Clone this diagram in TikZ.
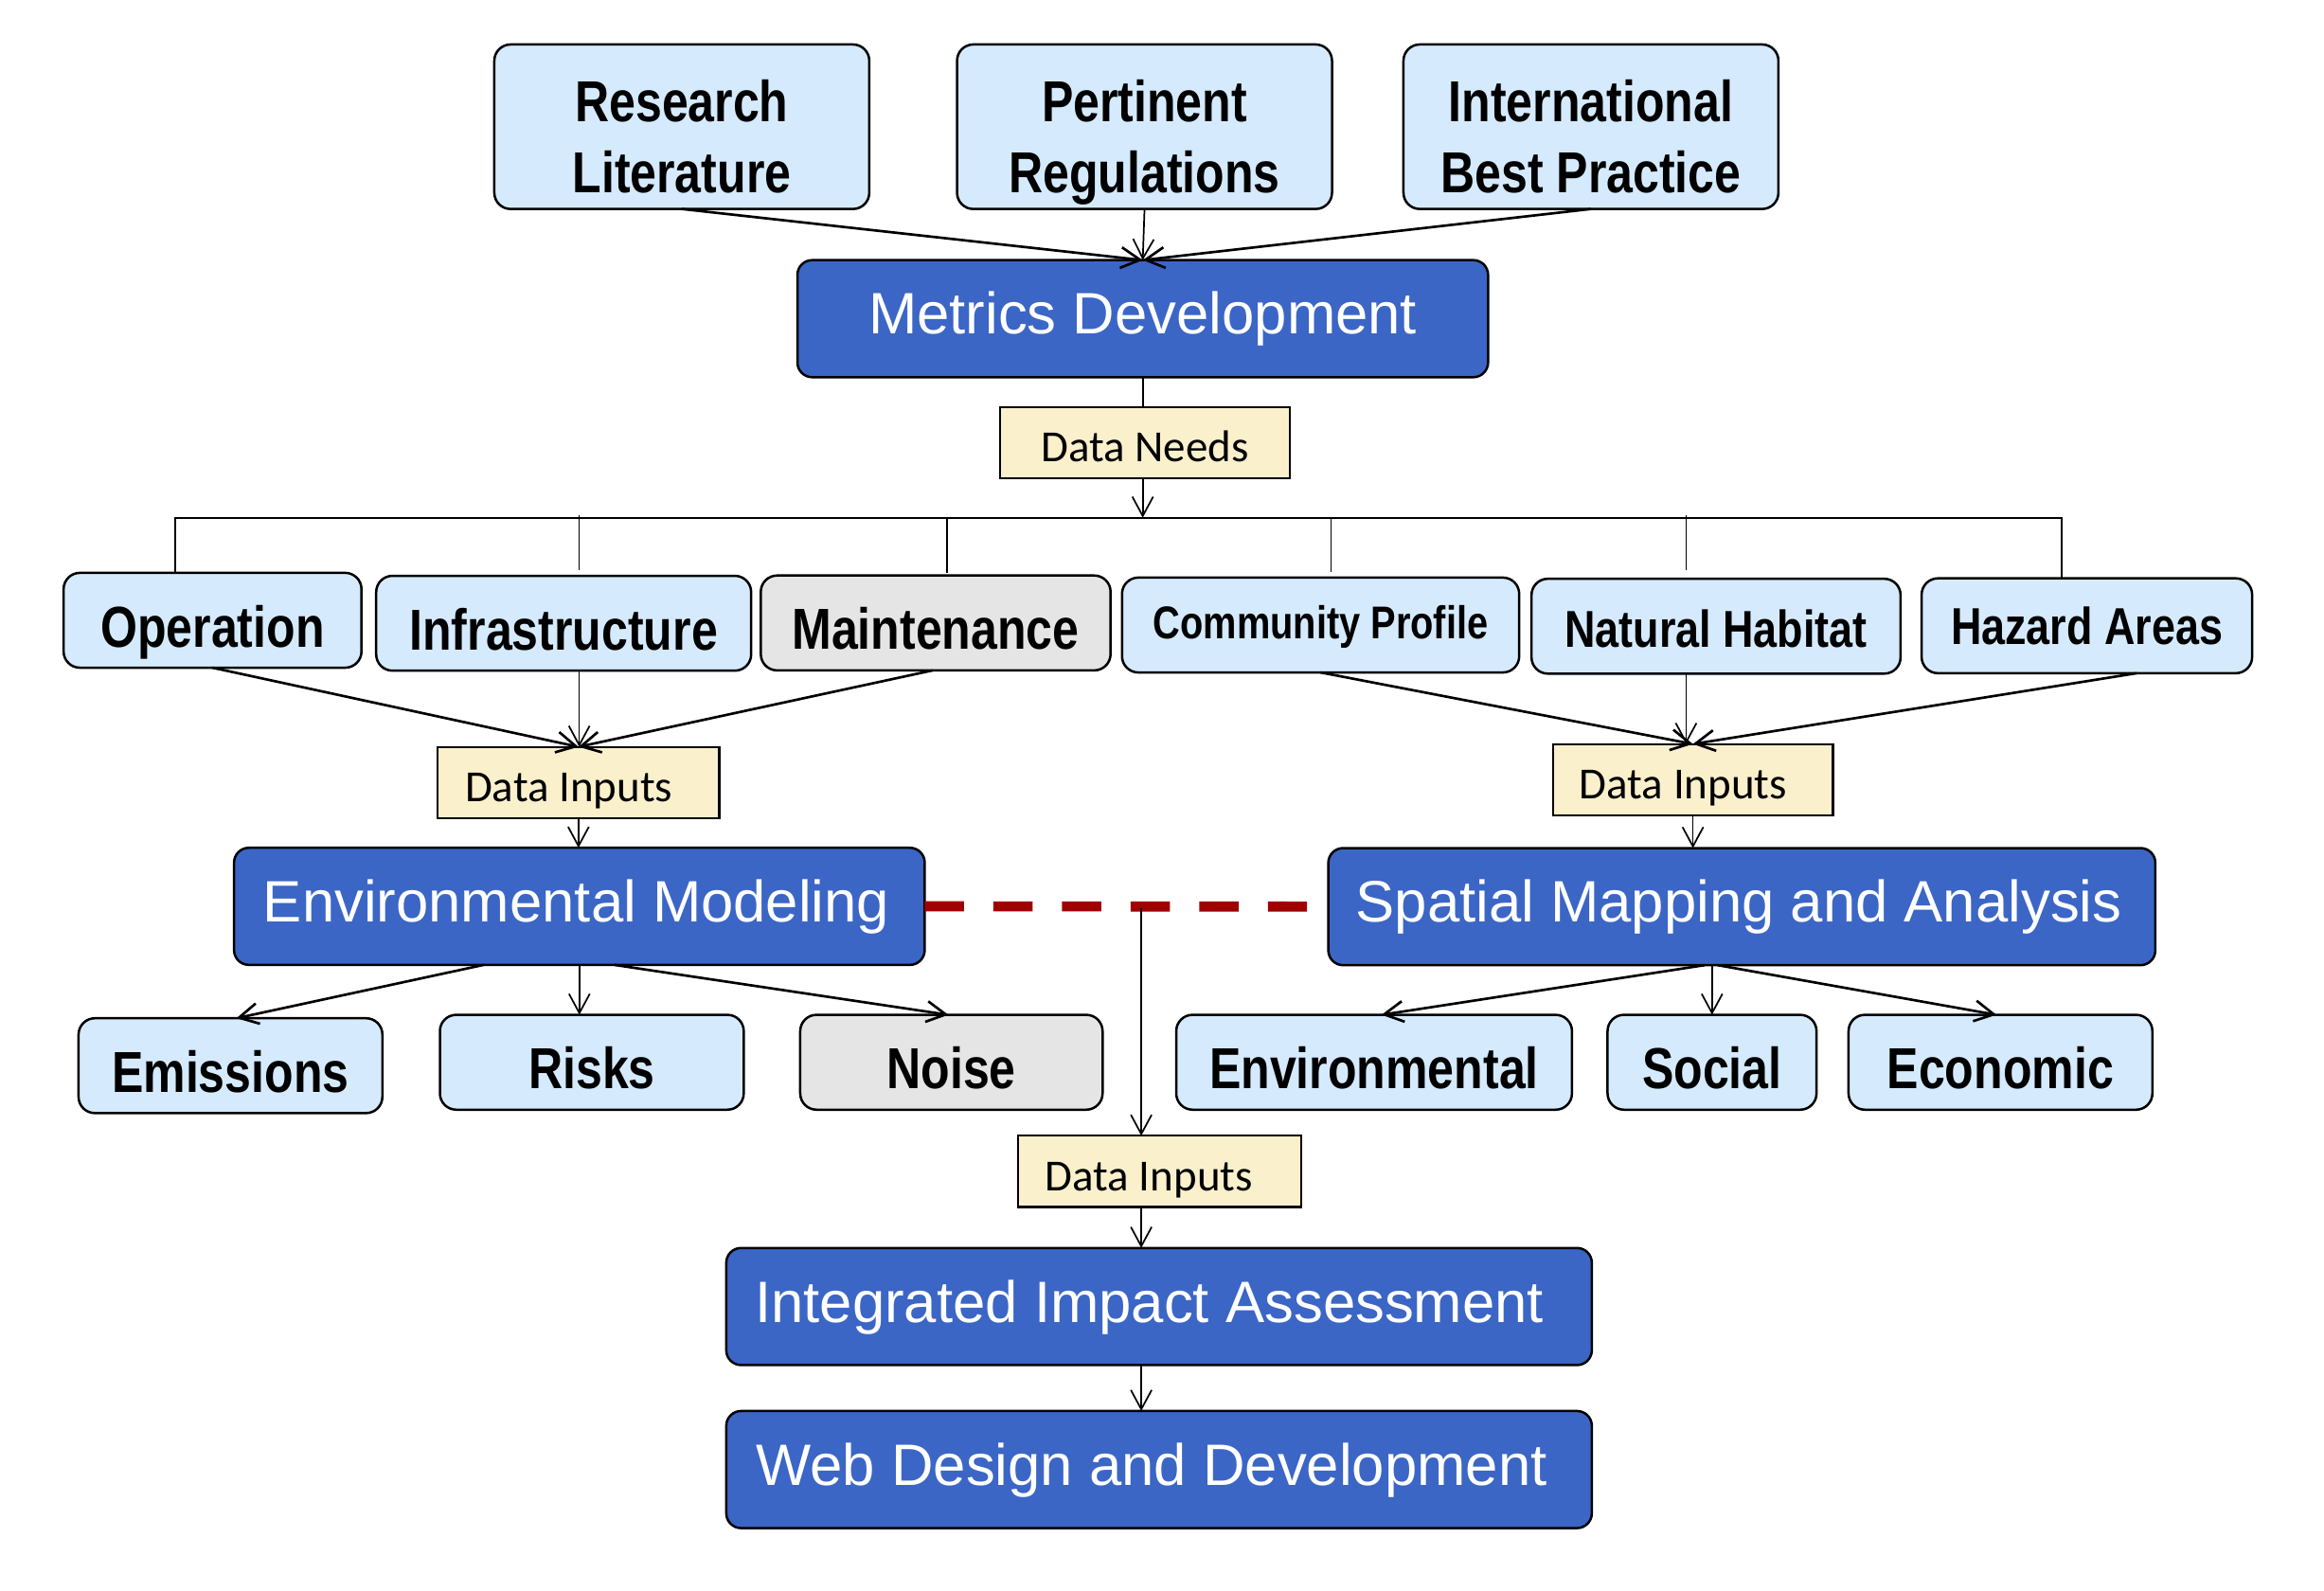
\documentclass[tikz,border=0pt]{standalone}
\usepackage{fontspec}
\setmainfont{Liberation Sans}
\newfontfamily\boxfont[FakeStretch=0.82]{Liberation Sans}
\newfontfamily\datafont{Carlito}
\usetikzlibrary{arrows.meta}

\definecolor{paleblue}{RGB}{213,234,252}
\definecolor{palegray}{RGB}{229,229,229}
\definecolor{stageblue}{RGB}{59,102,198}
\definecolor{notefill}{RGB}{250,240,204}
\definecolor{linkred}{RGB}{160,0,0}

\tikzset{
  framed/.style={draw=black, line width=1.6pt, inner sep=0pt, outer sep=0pt},
  itembox/.style={framed, rounded corners=11pt, fill=paleblue,
    font={\boxfont\bfseries\fontsize{39pt}{47.5pt}\selectfont},
    text height=36pt, text depth=0pt, minimum height=64pt},
  greybox/.style={itembox, fill=palegray},
  itemtext/.style={inner sep=0pt, align=center,
    font={\boxfont\bfseries\fontsize{39pt}{47.5pt}\selectfont}},
  stagebox/.style={framed, rounded corners=10pt, fill=stageblue, text=white,
    font={\fontsize{39.4pt}{46pt}\selectfont},
    text height=21pt, text depth=0pt, minimum height=79pt},
  notebox/.style={framed, line width=1.4pt, fill=notefill,
    font={\datafont\fontsize{30pt}{36pt}\selectfont},
    text height=26pt, text depth=0pt, minimum height=48pt},
  link/.style={line width=1.1pt},
  feed/.style={link, -{Straight Barb[length=13pt,width=14pt]}},
  slant/.style={feed, line width=1.7pt},
  crosslink/.style={draw=linkred, line width=6.8pt, dash pattern=on 26.5pt off 19.8pt}
}

\begin{document}
\begin{tikzpicture}[x=1pt, y=-1pt]
  \fill[white] (0,0) rectangle (1568,1073);
  \useasboundingbox (0,0) rectangle (1568,1073);

  % sources
  \node[itembox, minimum width=253pt, minimum height=111pt] (research) at (460,85.5) {};
  \node[itembox, minimum width=253pt, minimum height=111pt] (pertinent) at (772.2,85.5) {};
  \node[itembox, minimum width=253pt, minimum height=111pt] (intl) at (1073.4,85.5) {};
  \node[itemtext] (research-t) at ([yshift=-10.6pt]research.center) {Research\\Literature\vphantom{g}};
  \node[itemtext] (pertinent-t) at ([yshift=-10.6pt]pertinent.center) {Pertinent\\Regulations\vphantom{g}};
  \node[itemtext] (intl-t) at ([yshift=-10.6pt]intl.center) {International\\Best Practice\vphantom{g}};

  % main stages
  \node[stagebox, minimum width=466pt] (metrics) at (771,215) {Metrics Development};
  \node[stagebox, minimum width=466pt] (env) at (390.9,611.5) {Environmental Modeling\kern4pt};
  \node[stagebox, minimum width=558pt] (spatial) at (1175.2,611.7) {Spatial Mapping and Analysis\kern4pt};
  \node[stagebox, minimum width=584pt] (integrated) at (782,881.5) {Integrated Impact Assessment\kern13pt};
  \node[stagebox, minimum width=584pt] (web) at (782,991.5) {Web Design and Development\kern10pt};

  % data notes
  \node[notebox, minimum width=196pt] (needs) at (772.5,298.7) {Data Needs};
  \node[notebox, minimum width=190pt] (inL) at (390.3,527.9) {Data Inputs\kern13pt};
  \node[notebox, minimum width=189pt] (inR) at (1142.2,526) {Data Inputs\kern13pt};
  \node[notebox, minimum width=191pt] (inB) at (782.3,790.3) {Data Inputs\kern14pt};

  % data categories
  \node[itembox, minimum width=201pt] (operation) at (143.4,418.5) {Operation};
  \node[itembox, minimum width=253pt] (infra) at (380.3,420.5) {Infrastructure};
  \node[greybox, minimum width=236pt] (maint) at (631.3,420.3) {Maintenance};
  \node[itembox, minimum width=268pt, font={\boxfont\bfseries\fontsize{31pt}{36pt}\selectfont}, text height=18.2pt] (comm) at (891,421.7) {Community Profile};
  \node[itembox, minimum width=249pt, font={\boxfont\bfseries\fontsize{35pt}{40pt}\selectfont}, text height=28pt] (nat) at (1157.8,422.5) {Natural Habitat};
  \node[itembox, minimum width=223pt, font={\boxfont\bfseries\fontsize{35pt}{40pt}\selectfont}, text height=25pt] (hazard) at (1408,422.2) {Hazard Areas};

  % model outputs
  \node[itembox, minimum width=205pt] (emissions) at (155.5,719) {Emissions};
  \node[itembox, minimum width=205pt] (risks) at (399.3,716.7) {Risks};
  \node[greybox, minimum width=204pt] (noise) at (641.9,716.7) {Noise};
  \node[itembox, minimum width=267pt] (environmental) at (927.1,716.7) {Environmental};
  \node[itembox, minimum width=141pt] (social) at (1155.1,716.7) {Social};
  \node[itembox, minimum width=205pt] (economic) at (1349.7,716.7) {Economic};

  % sources into metrics
  \draw[slant] (research.south) -- (metrics.north);
  \draw[feed] (pertinent.south) -- (metrics.north);
  \draw[slant] (intl.south) -- (metrics.north);

  % distribution bus
  \coordinate (busw) at (118.5,349.3);
  \coordinate (buse) at (1390.8,349.3);
  \coordinate (drop-infra) at (390.8,349.3);
  \coordinate (drop-maint) at (639,349.3);
  \coordinate (drop-comm) at (898,349.3);
  \coordinate (drop-nat) at (1137.6,349.3);
  \draw[link] (metrics.south) -- (metrics.south |- needs.north);
  \draw[feed] (metrics.south |- needs.south) -- (metrics.south |- busw);
  \draw[link, line width=1.3pt] (busw |- operation.north) -- (busw) -- (buse) -- (buse |- hazard.north);
  \draw[link] ([yshift=2pt]drop-infra) -- ([yshift=4pt]drop-infra |- infra.north);
  \draw[link] (drop-maint) -- ([yshift=2pt]drop-maint |- maint.north);
  \draw[link] (drop-comm) -- ([yshift=4pt]drop-comm |- comm.north);
  \draw[link] ([yshift=2pt]drop-nat) -- ([yshift=6pt]drop-nat |- nat.north);

  % inputs to environmental modeling
  \draw[slant] (operation.south) -- (inL.north);
  \draw[feed] (drop-infra |- infra.south) -- (drop-infra |- inL.north);
  \draw[slant] ([xshift=-2pt]maint.south) -- (inL.north);
  \draw[feed] (inL.south) -- (inL.south |- env.north);

  % inputs to spatial mapping
  \draw[slant] (comm.south) -- (inR.north);
  \draw[feed] (drop-nat |- nat.south) -- (drop-nat |- inR.north);
  \draw[slant] ([xshift=33.7pt]hazard.south) -- (inR.north);
  \draw[feed] (inR.south) -- (inR.south |- spatial.north);

  % model outputs
  \draw[slant] ([xshift=-64.6pt]env.south) -- ([xshift=4pt]emissions.north);
  \draw[feed] (env.south) -- (env.south |- risks.north);
  \draw[slant] ([xshift=23.6pt]env.south) -- ([xshift=-2pt]noise.north);
  \draw[slant] ([xshift=-25.2pt]spatial.south) -- ([xshift=5pt]environmental.north);
  \draw[feed] (social.north |- spatial.south) -- (social.north);
  \draw[slant] ([xshift=-16.2pt]spatial.south) -- ([xshift=-2.7pt]economic.north);

  % link between the two models and the integration chain
  \draw[crosslink] (env.east) -- (spatial.west);
  \coordinate (tap) at (770,613);
  \draw[feed] (tap) -- (tap |- inB.north);
  \draw[feed] (tap |- inB.south) -- (tap |- integrated.north);
  \draw[feed] (tap |- integrated.south) -- (tap |- web.north);
\end{tikzpicture}
\end{document}
